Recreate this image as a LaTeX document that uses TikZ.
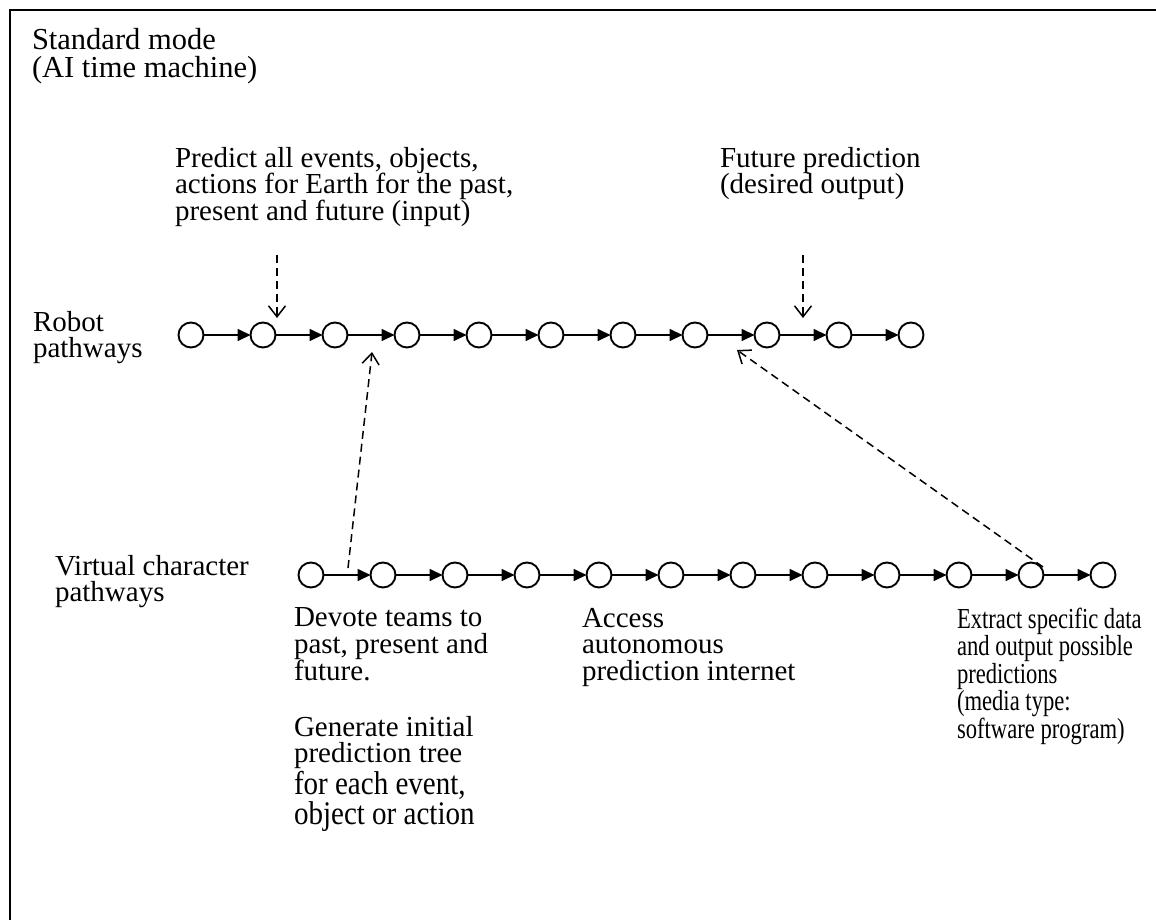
\documentclass[tikz,border=0pt]{standalone}
\usepackage{fontspec}
\setmainfont{Liberation Serif}
% condensed and tall cuts of the same face
\newfontfamily\narrowserif[FakeStretch=0.78]{Liberation Serif}
\newfontfamily\tallserif[FakeStretch=0.88]{Liberation Serif}
\usetikzlibrary{arrows.meta}
\begin{document}
\begin{tikzpicture}[x=1pt,y=-1pt,
  every node/.style={inner sep=0pt,outer sep=0pt},
  lbl/.style={anchor=north west,align=left,font=\fontsize{29}{26.6}\selectfont},
  narrow/.style={lbl,font=\narrowserif\fontsize{29}{27.5}\selectfont},
  state/.style={circle,draw,line width=1.9pt,minimum size=25pt,fill=white},
  flow/.style={line width=1.7pt,-{Triangle[length=13pt,width=12pt]}},
  hint/.style={line width=1.5pt,dash pattern=on 8pt off 5pt,
    -{Straight Barb[length=11pt,width=17pt,line width=1.5pt]}}]
  \useasboundingbox (0,0) rectangle (1156,920);
  % frame (top and left edges)
  \draw[line width=2pt] (10,920) -- (10,10) -- (1160,10);

  % titles and labels
  \node[lbl,font=\fontsize{30.5}{28.5}\selectfont] (title) at (32,28) {Standard mode\\(AI time machine)};
  \node[lbl] (input) at (175,147) {Predict all events, objects,\\actions for Earth for the past,\\present and future (input)};
  \node[lbl] (output) at (720,147) {Future prediction\\(desired output)};
  \node[lbl] (robot) at (33,311) {Robot\\pathways};
  \node[lbl] (virtual) at (55,555) {Virtual character\\pathways};
  \node[lbl] (devote) at (294,608) {Devote teams to\\past, present and\\future.};
  \node[lbl] (generate) at (294,716) {Generate initial\\prediction tree\\[1pt]{\tallserif\fontsize{33}{28}\selectfont for each event,}\\[1pt]{\tallserif\fontsize{33}{28}\selectfont object or action}};
  \node[lbl] (access) at (582,608) {Access\\autonomous\\prediction internet};
  \node[narrow] (extract) at (957,608) {Extract specific data\\and output possible\\predictions\\(media type:\\software program)};

  % robot pathway chain
  \foreach \i in {1,...,11}
    \node[state] (r\i) at ({191+72*(\i-1)},335) {};
  \foreach \i [evaluate=\i as \j using int(\i+1)] in {1,...,10}
    \draw[flow] (r\i) -- (r\j);

  % virtual character pathway chain
  \foreach \i in {1,...,12}
    \node[state] (v\i) at ({311+72*(\i-1)},575) {};
  \foreach \i [evaluate=\i as \j using int(\i+1)] in {1,...,11}
    \draw[flow] (v\i) -- (v\j);

  % dashed pointers
  \coordinate (inA) at (277,255);  \coordinate (inB) at (277,318);
  \coordinate (outA) at (803,255); \coordinate (outB) at (803,318);
  \coordinate (upA) at (348,568);  \coordinate (upB) at (372,352);
  \coordinate (dgA) at (1043,567); \coordinate (dgB) at (737,350);
  \draw[hint] (inA) -- (inB);
  \draw[hint] (outA) -- (outB);
  \draw[hint] (upA) -- (upB);
  \draw[hint] (dgA) -- (dgB);
\end{tikzpicture}
\end{document}
